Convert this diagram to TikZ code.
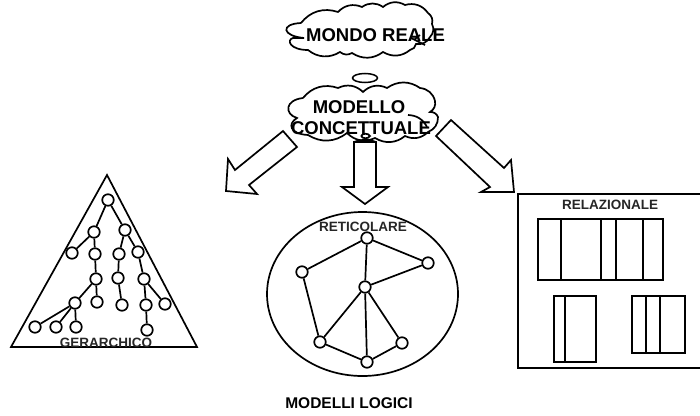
\documentclass[tikz,border=0pt]{standalone}
\usepackage{fontspec}
\setmainfont{Liberation Sans}
\usetikzlibrary{shapes.geometric}
\tikzset{
  line/.style={draw=black,line width=1.7pt,line join=miter},
  thick line/.style={draw=black,line width=2pt},
  dot/.style={circle,draw=black,fill=white,line width=1.7pt,minimum size=11.5pt,inner sep=0pt},
  big/.style={font=\fontsize{18.5}{18}\bfseries,text=black,inner sep=0pt},
  small/.style={font=\fontsize{13.5}{14}\bfseries,text=black!85,inner sep=0pt},
  arrowshape/.style={draw=black,fill=white,line width=1.7pt,line join=miter},
  cl/.style={bend left=35}
}
\begin{document}
\begin{tikzpicture}[x=1pt,y=-1pt]
\useasboundingbox (0,0) rectangle (700,415);
% clouds
\path[line,fill=white] (301,23) to[cl] (338,12) to[cl] (362,7) to[cl] (383,7) to[cl] (405,5) to[cl] (428,13) to[cl] (432,24) to[cl] (430,37) to[cl] (416,44) to[cl] (410,50) to[cl] (383,52) to[cl] (352,53) to[cl] (340,52) to[cl] (308,50) .. controls (290,50) and (286,40) .. (293,38) -- (304,38) .. controls (282,36) and (280,24) .. (301,23);
\draw[line] (411,38) -- (425,45) (420,35) -- (415,39);
\node[draw=black,ellipse,line width=1.5pt,minimum width=25pt,minimum height=9pt,inner sep=0pt] (linkell) at (365,78) {};
\path[line,fill=white] (303,98) to[cl] (338,88) to[cl] (363,92) to[cl] (387,88) to[cl] (420,88) to[cl] (435,101) to[cl] (430,112) to[cl] (438,117) to[cl] (428,132) to[cl] (405,136) to[cl] (375,138) to[cl] (347,133) to[cl] (308,135) .. controls (290,134) and (287,124) .. (297,118) .. controls (284,114) and (285,100) .. (303,98);
\draw[line] (408,115) to[bend left=30] (427,127);
% arrows
\path[arrowshape] (283,131) -- (297,147) -- (249,185) -- (257,194) -- (226,191) -- (228,159) -- (235,170) -- cycle;
\path[arrowshape] (354,142) -- (376,142) -- (376,187) -- (388,187) -- (365,204) -- (342,187) -- (354,187) -- cycle;
\path[arrowshape] (451,120) -- (436,136) -- (490,187) -- (481,192) -- (514,192) -- (511,160) -- (504,168) -- cycle;
\draw[line] (354,142) to[bend left=20] (376,142);
\draw[line] (361,136) to[bend right=60] (370,136) to[bend right=60] (361,136);
% hierarchical
\path[line] (107,175) -- (197,347) -- (11,347) -- cycle;
\foreach \n/\x/\y in {h0/108/200,h1/94/232,h2/125/230,h3/72/253,h4/95/254,h5/119/254,h6/138/252,h7/96/279,h8/118/278,h9/144/279,h10/75/303,h11/97/302,h12/122/305,h13/146/305,h14/165/304,h15/35/327,h16/56/327,h17/76/327,h18/147/330}
  \node[dot] (\n) at (\x,\y) {};
\foreach \a/\b in {h0/h1,h0/h2,h1/h3,h1/h4,h2/h5,h2/h6,h4/h7,h5/h8,h6/h9,h7/h10,h7/h11,h8/h12,h9/h13,h9/h14,h10/h15,h10/h16,h10/h17,h13/h18}
  \draw[line] (\a) -- (\b);
\node[small] (gerarchico) at (106,343) {GERARCHICO};
% reticular
\node[draw=black,line width=1.7pt,ellipse,minimum width=191pt,minimum height=164pt,inner sep=0pt] (retell) at (362.5,294) {};
\node[small] (reticolare) at (363,227) {RETICOLARE};
\foreach \n/\x/\y in {r0/367/238,r1/302/272,r2/428/263,r3/365/287,r4/320/342,r5/402/343,r6/367/362}
  \node[dot] (\n) at (\x,\y) {};
\foreach \a/\b in {r0/r1,r0/r2,r0/r3,r1/r4,r2/r3,r3/r4,r3/r5,r3/r6,r4/r6,r5/r6}
  \draw[line] (\a) -- (\b);
% relational
\path[thick line] (518,194) rectangle (702,368);
\node[small] (relazionale) at (610,205) {RELAZIONALE};
\path[thick line] (538,219) rectangle (663,280);
\draw[thick line] (561,219) -- (561,280) (600.5,219) -- (600.5,280) (615.5,219) -- (615.5,280) (643,219) -- (643,280);
\path[thick line] (554,296) rectangle (596,362);
\draw[thick line] (565,296) -- (565,362);
\path[thick line] (632,296) rectangle (685,353);
\draw[thick line] (646,296) -- (646,353) (660,296) -- (660,353);
% titles
\node[big] (mondo) at (375.5,35) {MONDO REALE};
\node[big] (modello) at (359,107) {MODELLO};
\node[big] (concettuale) at (361,128) {CONCETTUALE};
\node[font=\fontsize{15.5}{16}\bfseries,inner sep=0pt] (logici) at (349,403) {MODELLI LOGICI};
\end{tikzpicture}
\end{document}
